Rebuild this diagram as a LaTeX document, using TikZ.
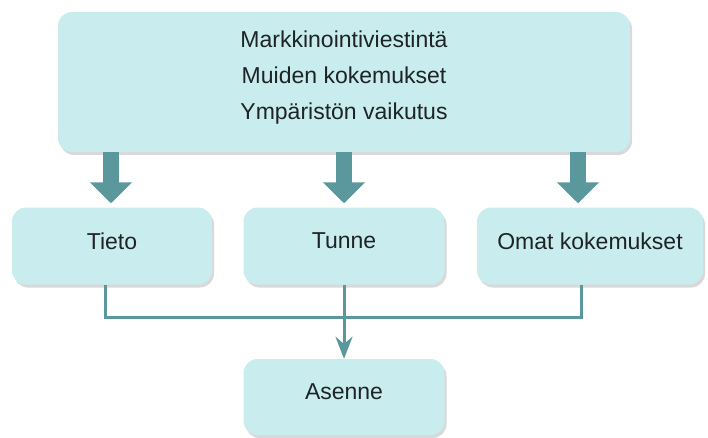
\documentclass[tikz,border=0pt]{standalone}
\usepackage{fontspec}
\setmainfont{Liberation Sans}
\usetikzlibrary{arrows.meta,shadows}
\definecolor{boxfill}{RGB}{201,236,239}
\definecolor{teal}{RGB}{90,152,157}
\definecolor{txt}{RGB}{30,36,38}
\tikzset{
    box/.style={rectangle, rounded corners=14pt, fill=boxfill, text=txt,
        font=\fontsize{23pt}{36pt}\selectfont, align=center, text depth=10pt,
        drop shadow={shadow xshift=2pt, shadow yshift=-3pt, opacity=0.25, fill=black!60}},
    bigarrow/.style={draw=teal, line width=16pt, -{Triangle[width=41pt,length=21pt]}},
    link/.style={draw=teal, line width=3pt}
}
\begin{document}
\begin{tikzpicture}[x=1pt, y=-1pt]
    \useasboundingbox (0,0) rectangle (708,438);
    \node[box, minimum width=572pt, minimum height=140pt, text depth=14pt] (lahde) at (344,82)
        {Markkinointiviestintä\\Muiden kokemukset\\Ympäristön vaikutus};
    \node[box, minimum width=200pt, minimum height=77pt] (tieto) at (112,246) {Tieto};
    \node[box, minimum width=201pt, minimum height=77pt] (tunne) at (344,246) {Tunne};
    \node[box, minimum width=226pt, minimum height=77pt] (omat) at (590,246) {Omat kokemukset};
    \node[box, minimum width=201pt, minimum height=76pt] (asenne) at (344,397) {Asenne};
    % vaikuttajat
    \coordinate (tietoin) at ([xshift=-1pt]tieto.north);
    \coordinate (omatin) at ([xshift=-12pt]omat.north);
    \draw[bigarrow] (lahde.south -| tietoin) -- ([yshift=4pt]tietoin);
    \draw[bigarrow] (lahde.south -| tunne.north) -- ([yshift=4pt]tunne.north);
    \draw[bigarrow] (lahde.south -| omatin) -- ([yshift=4pt]omatin);
    % yhdistava viiva
    \coordinate (yhd) at (344,317);
    \draw[link] ([xshift=-7pt]tieto.south) |- (yhd) -| ([xshift=-9pt]omat.south);
    \draw[link, -{Stealth[width=17pt,length=22pt]}] (tunne.south) -- (asenne.north);
\end{tikzpicture}
\end{document}
